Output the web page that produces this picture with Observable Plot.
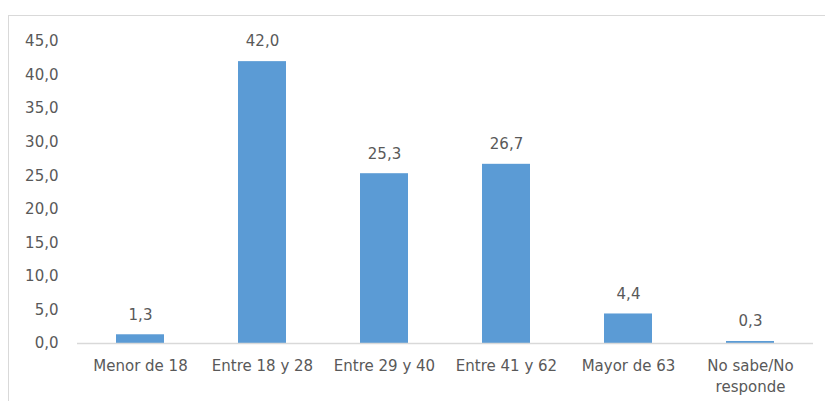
<!DOCTYPE html>
<html><head><meta charset="utf-8">
<script src="https://cdn.jsdelivr.net/npm/d3@7"></script>
<script src="https://cdn.jsdelivr.net/npm/@observablehq/plot@0.6"></script>
<style>
html,body{margin:0;padding:0;background:#fff;overflow:hidden;}
#wrap{position:relative;width:825px;height:401px;overflow:hidden;}
#frame{position:absolute;left:8px;top:15px;width:900px;height:500px;border:1px solid #d9d9d9;}
#chart{position:absolute;left:0;top:0;}
</style>
</head><body>
<div id="wrap"><div id="frame"></div><div id="chart"></div></div>
<script>
const categories = ["Menor de 18","Entre 18 y 28","Entre 29 y 40","Entre 41 y 62","Mayor de 63","No sabe/No\nresponde"];
const values = [1.3, 42.0, 25.3, 26.7, 4.4, 0.3];
const yTicks = [0,5,10,15,20,25,30,35,40,45];

const data = categories.map((c,i)=>({cat:c, value:values[i]}));
const fmt = v => v.toFixed(1).replace(".", ",");
const font = "'DejaVu Sans', sans-serif";

const chart = Plot.plot({
  width: 825,
  height: 401,
  marginLeft: 77,
  marginRight: 12,
  marginTop: 41,
  marginBottom: 58,
  style: {fontFamily: font, fontSize: "15px", color: "#595959", background: "transparent"},
  x: {domain: categories, paddingInner: 0.61, paddingOuter: 0.305, label: null},
  y: {domain: [0,45], label: null},
  marks: [
    Plot.barY(data, {x:"cat", y:"value", fill:"#5B9BD5"}),
    Plot.ruleY([0], {stroke:"#d9d9d9", strokeWidth:1.5}),
    Plot.axisY({ticks: yTicks, tickSize:0, tickPadding:19, tickFormat: fmt, label:null, fill:"#595959", fontSize:15}),
    Plot.axisX({tickSize:0, tickPadding:13, label:null, fill:"#595959", fontSize:15, lineHeight:1.4}),
    Plot.text(data, {x:"cat", y:"value", text: d=>fmt(d.value), dy:-20, fill:"#595959", fontSize:15})
  ]
});
document.getElementById("chart").appendChild(chart);
</script>
</body></html>
